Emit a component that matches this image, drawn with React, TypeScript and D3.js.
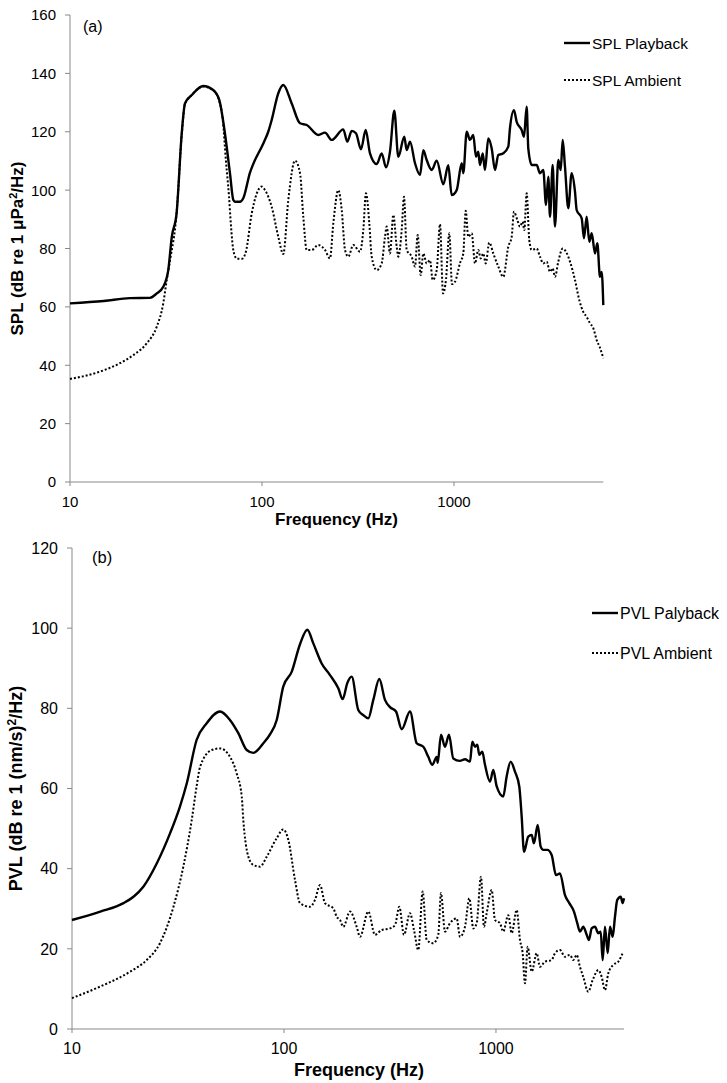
import React from "react";
import * as d3 from "d3";

// ---------- DATA (frequency Hz, level dB) ----------
const splPlayback: [number, number][] = [
  [10,61.2],[15,62],[20.5,63],[26.1,63.1],[28.3,64.6],[30.6,66.9],[32.5,72.6],[33.9,84],[35.9,92],[38.2,119.5],[39.7,129.7],[43.1,132.6],[49.4,135.7],[55.7,134.3],[59.9,130.9],[64.1,119.5],[68.1,105.8],[70.9,96.6],[72.4,96],[76.8,96],[79.9,97.2],[86.6,106],[90.1,109],[101.6,116],[107.8,120],[112.3,124],[121.6,133.2],[129.1,136],[142.8,129.7],[157.8,122.9],[171,122.3],[196.5,118.9],[212.9,119.7],[230.7,117.2],[265.1,120.8],[278.2,116.6],[293.3,120.3],[308.8,119.5],[327.8,114],[346.8,120.6],[365.2,112.6],[395.8,108.9],[420.2,112.6],[442.4,107.8],[464.2,113.2],[488.8,127.2],[512.9,111.4],[551,118.3],[567,113.7],[590,116.6],[626.6,109.2],[665.4,105.2],[692.2,113.7],[720.9,110.3],[765.6,106.9],[812.8,110.1],[879.8,102],[934,108.5],[972.7,98.3],[1033,100],[1097,109.2],[1118,105.8],[1165,120],[1211,117.2],[1260,118.9],[1302,111.4],[1338,113.2],[1366,108.6],[1411,112.6],[1450,106.9],[1509,117.7],[1572,114.3],[1635,106.9],[1701,112],[1806,112.6],[1918,114.9],[1957,121.2],[2053,127.4],[2121,123.4],[2252,120.6],[2315,118.3],[2391,128.6],[2438,114.3],[2540,108.6],[2696,108.6],[2805,105.8],[2918,106.9],[3015,94.9],[3099,104.6],[3162,90.9],[3267,108.6],[3357,87.5],[3494,110.3],[3596,106.9],[3683,117.2],[3786,108],[3938,93.8],[4102,105.8],[4268,99.5],[4355,93.2],[4626,90.3],[4753,83.5],[4909,90.9],[5068,82.3],[5216,85.2],[5427,78.3],[5578,81.8],[5761,70.3],[5880,72],[5994,60.6]
];

const splAmbient: [number, number][] = [
  [10,35.3],[14.3,37.8],[18.2,40.7],[21.4,43.5],[25.1,47.5],[28.3,53.2],[30.6,61.2],[31.9,69.2],[33.2,76],[35.9,92],[38.2,119],[39.7,129.5],[43.1,132.6],[49.4,135.5],[55.7,134.2],[59.9,130.5],[62.5,124],[64.9,110],[67.3,98],[68.9,88],[71.1,79],[74.1,76.5],[78.7,76.5],[82.5,79],[88.4,92],[99.6,101.2],[103.7,100],[112.3,94.3],[121.6,84],[129.1,78.1],[137.1,96.6],[148.6,110.1],[157.8,105.8],[164.1,90.9],[171,79.5],[181.5,79.5],[196.5,81.2],[212.9,79.5],[226,76.6],[235.2,88.6],[249.7,100],[260.2,93.2],[270.7,79.5],[281.6,77.2],[298.9,81.2],[323.9,78.9],[337,86.3],[348,98.9],[362.2,88.6],[372.7,77.2],[395.8,72.6],[420.2,74.9],[437.2,84],[446.2,87.5],[464.2,78.3],[483,91.5],[503,80.6],[512.9,77.2],[534.2,86.3],[549.1,97.7],[567.2,79.5],[602,77.2],[626.6,73.8],[647.1,84.6],[670.9,70.9],[692.2,78.3],[720.9,74.9],[749.9,76],[774.6,69.2],[812.8,72.6],[845.5,88.3],[876.7,64.6],[908.8,69.5],[945.4,85.2],[976.3,67.8],[1012,68.6],[1075,75],[1118,78.3],[1151,92.9],[1187,84],[1237,85.2],[1287,74.9],[1338,79.5],[1378,76.6],[1421,78.3],[1463,74.9],[1527,82],[1602,78.3],[1701,73.8],[1806,70.3],[1918,80.6],[1998,84],[2053,92.6],[2137,89.8],[2207,87.5],[2279,89.2],[2323,86.3],[2391,98.9],[2467,82.9],[2540,79.5],[2696,80],[2805,77.2],[2918,74.9],[3040,75.5],[3162,72],[3267,73.2],[3357,70.3],[3494,75.5],[3683,80],[3831,78.9],[4020,75.5],[4268,69.2],[4495,62.3],[4714,58.3],[4909,56.6],[5109,54.4],[5316,52.7],[5537,48.6],[5761,46],[5994,42.4]
];

const pvlPlayback: [number, number][] = [
  [10,27.2],[13.6,29.3],[17.5,31.4],[19.5,33],[21.7,35.5],[25.1,41.3],[29,48.8],[32.3,55.5],[34.8,61.3],[38.7,72.1],[43.2,76.3],[49.9,79.2],[55.6,77.1],[60.9,73.8],[66.7,69.6],[71.7,68.9],[79.9,71.3],[85.9,73.5],[92.4,77.1],[99.2,85.4],[108.7,89.1],[119,96],[128.8,99.6],[137.5,96.2],[150.6,91.2],[164.8,88.3],[180.4,85],[189.2,82.3],[198.9,86.3],[208.6,87.9],[224.1,79.6],[236.6,78.3],[249.8,77.5],[263.8,82.1],[281.6,87.3],[299.5,82.1],[316.2,80.3],[337.6,79.2],[359.2,74.8],[393,79.2],[422.6,71.3],[454.1,70.4],[479.4,67.9],[500.6,65.9],[525.2,67.9],[530.9,66.4],[550.3,73.4],[574.7,70.4],[600.1,73.4],[628.9,67.5],[676.5,66.9],[714.2,67.3],[754.3,66.7],[773.3,71.7],[796.3,70.4],[816.5,70.9],[834.4,68.4],[861.9,69.2],[887.6,65.9],[937,61.7],[971,64.6],[1008,60.5],[1082,58],[1123,63],[1173,66.7],[1229,64.2],[1288,60.5],[1322,53],[1356,44.2],[1420,48],[1474,48.4],[1511,46.3],[1573,50.9],[1625,45.5],[1672,44.7],[1746,44.7],[1831,43.4],[1919,38.4],[2004,38.8],[2116,33.4],[2218,31.4],[2333,29.3],[2418,26.4],[2490,24.3],[2581,25.5],[2678,23.5],[2746,22.2],[2827,25.1],[2931,25.5],[3038,23.9],[3118,24.3],[3187,17.2],[3267,25.5],[3365,18.9],[3450,25.5],[3552,23],[3642,28],[3734,32.2],[3875,33],[3960,31.4],[4017,32.6]
];

const pvlAmbient: [number, number][] = [
  [10,7.7],[13.6,10.6],[18.8,14.3],[22.5,17.2],[26,21.4],[30.1,30.5],[33.5,40.5],[36.7,52.1],[38.7,60.5],[40.2,65.4],[45.6,69.6],[49.9,70],[55.6,67.9],[59.8,63.8],[63.2,58],[64.3,52.1],[67.9,43],[71.7,40.9],[77.1,40.5],[82.9,43],[92.4,47.6],[99.2,49.8],[104.8,47.2],[112.7,37.2],[119,31.4],[132.6,30.5],[140,32.2],[147.9,35.9],[156.1,31.4],[170.8,30.1],[177.3,28],[183.8,27.2],[190.4,25.5],[204.8,29.3],[220.3,25.5],[228.3,23],[249.8,29.3],[268.7,23.5],[288.9,24.7],[316.2,25.1],[333.9,25.9],[349.9,30.5],[368.1,23.5],[393,28.9],[410.4,24.7],[430,19.7],[451,34.3],[471.1,22.2],[506,21.4],[534.2,23.5],[550.3,33.9],[574.7,24.3],[606.7,26.4],[652.6,27.6],[676.5,23],[714.2,25.5],[748.6,32.6],[781.6,25.1],[810.9,26.4],[849.7,38],[877.9,25.5],[904,28.9],[954.5,34.7],[989.2,27.2],[1044,26.4],[1082,24.3],[1143,28.4],[1186,23.9],[1252,29.7],[1298,22.2],[1336,18.9],[1370,11.4],[1411,20.5],[1474,14.3],[1556,18.9],[1613,15.5],[1702,16.8],[1831,17.2],[1898,18.9],[2004,19.7],[2116,18],[2234,18.5],[2315,17.2],[2403,18.5],[2490,15.5],[2581,13],[2725,9.3],[2858,12.2],[3038,14.7],[3152,13],[3267,9.7],[3387,13.9],[3576,16],[3776,16.8],[3986,19.3]
];

const xTicks = [10, 100, 1000];
const splTicks = [0, 20, 40, 60, 80, 100, 120, 140, 160];
const pvlTicks = [0, 20, 40, 60, 80, 100, 120];

const FONT = "'Liberation Sans', Arial, Helvetica, sans-serif";
const AXIS = "#898989";

type PanelProps = {
  x0: number; x1: number; y0: number; y1: number;
  fmax: number; vmax: number; ticks: number[];
  play: [number, number][]; amb: [number, number][];
  tickFont: number; titleFont: number; legFont: number; labelFont: number;
  label: string; labelX: number; labelY: number;
  yTitle: React.ReactNode; yTitleX: number;
  xTitleX: number; xTitleY: number; xTickY: number;
  legX: number; legY1: number; legY2: number;
  leg1: string; leg2: string;
};

function Panel(p: PanelProps) {
  const x = d3.scaleLog().domain([10, p.fmax]).range([p.x0, p.x1]);
  const y = d3.scaleLinear().domain([0, p.vmax]).range([p.y1, p.y0]);
  const line = d3.line<[number, number]>()
    .x(d => x(d[0]))
    .y(d => y(d[1]))
    .curve(d3.curveMonotoneX);
  return (
    <g fontFamily={FONT}>
      {/* y axis */}
      <line x1={p.x0} x2={p.x0} y1={p.y0} y2={p.y1} stroke={AXIS} strokeWidth={1} />
      {p.ticks.map(t => (
        <g key={"y" + t}>
          <line x1={p.x0 - 5} x2={p.x0} y1={y(t)} y2={y(t)} stroke={AXIS} strokeWidth={1} />
          <text x={p.x0 - 14} y={y(t)} dy="0.36em" textAnchor="end" fontSize={p.tickFont} fill="#000">{t}</text>
        </g>
      ))}
      {/* x axis */}
      <line x1={p.x0} x2={p.x1} y1={p.y1} y2={p.y1} stroke={AXIS} strokeWidth={1} />
      {xTicks.map(t => (
        <g key={"x" + t}>
          <line x1={x(t)} x2={x(t)} y1={p.y1} y2={p.y1 + 4} stroke={AXIS} strokeWidth={1} />
          <text x={x(t)} y={p.xTickY} textAnchor="middle" fontSize={p.tickFont} fill="#000">{t}</text>
        </g>
      ))}
      <text x={p.xTitleX} y={p.xTitleY} textAnchor="middle" fontSize={p.titleFont} fontWeight="bold">Frequency (Hz)</text>
      <text transform={`translate(${p.yTitleX},${(p.y0 + p.y1) / 2}) rotate(-90)`} textAnchor="middle" fontSize={p.titleFont} fontWeight="bold">{p.yTitle}</text>
      <text x={p.labelX} y={p.labelY} fontSize={p.labelFont}>{p.label}</text>
      {/* series */}
      <path d={line(p.amb) || ""} fill="none" stroke="#000" strokeWidth={2} strokeDasharray="2 2" />
      <path d={line(p.play) || ""} fill="none" stroke="#000" strokeWidth={2.4} strokeLinejoin="round" />
      {/* legend */}
      <line x1={p.legX} x2={p.legX + 26} y1={p.legY1} y2={p.legY1} stroke="#000" strokeWidth={2.4} />
      <text x={p.legX + 28} y={p.legY1} dy="0.36em" fontSize={p.legFont}>{p.leg1}</text>
      <line x1={p.legX} x2={p.legX + 26} y1={p.legY2} y2={p.legY2} stroke="#000" strokeWidth={2} strokeDasharray="2 2" />
      <text x={p.legX + 28} y={p.legY2} dy="0.36em" fontSize={p.legFont}>{p.leg2}</text>
    </g>
  );
}

export default function App() {
  return (
    <svg width={727} height={1083} style={{ position: "absolute", left: 0, top: 0, background: "#fff" }}>
      <rect width={727} height={1083} fill="#fff" />
      <Panel
        x0={70} x1={603.3} y0={15} y1={482} fmax={5994} vmax={160} ticks={splTicks}
        play={splPlayback} amb={splAmbient}
        tickFont={15} titleFont={17} legFont={15.5} labelFont={16}
        label="(a)" labelX={83} labelY={32}
        yTitle={<>SPL (dB re 1 μPa<tspan dy="-6" fontSize={11}>2</tspan><tspan dy="6">/Hz)</tspan></>}
        yTitleX={23}
        xTitleX={336.5} xTitleY={525} xTickY={507}
        legX={564} legY1={43} legY2={80} leg1="SPL Playback" leg2="SPL Ambient"
      />
      <Panel
        x0={72} x1={624} y0={548} y1={1029} fmax={4017} vmax={120} ticks={pvlTicks}
        play={pvlPlayback} amb={pvlAmbient}
        tickFont={16} titleFont={18} legFont={16} labelFont={16.5}
        label="(b)" labelX={92} labelY={563}
        yTitle={<>PVL (dB re 1 (nm/s)<tspan dy="-6" fontSize={12}>2</tspan><tspan dy="6">/Hz)</tspan></>}
        yTitleX={22}
        xTitleX={359} xTitleY={1076} xTickY={1054}
        legX={592} legY1={613} legY2={653} leg1="PVL Palyback" leg2="PVL Ambient"
      />
    </svg>
  );
}
